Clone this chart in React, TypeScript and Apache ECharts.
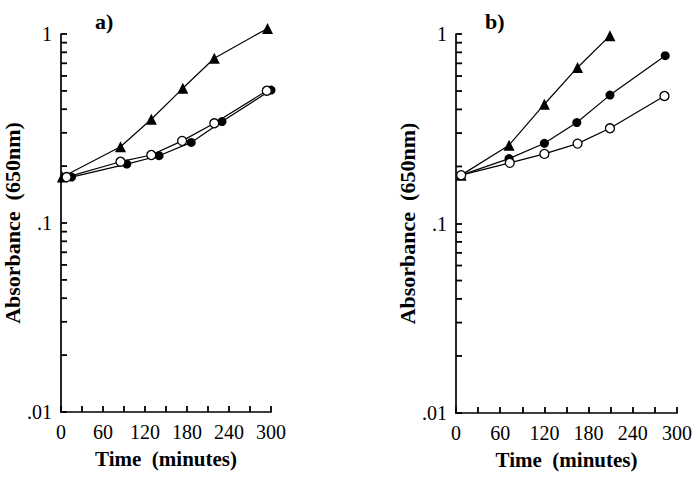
import React, { useEffect, useRef } from "react";
import * as echarts from "echarts";

// Panel a)
const timesATri = [2, 85, 129, 174, 219, 295];
const valsATri = [0.175, 0.253, 0.354, 0.516, 0.744, 1.07];
const timesAOpen = [8, 85, 129, 173, 219, 294];
const valsAOpen = [0.175, 0.211, 0.229, 0.272, 0.337, 0.501];
const timesAFill = [15, 94, 140, 186, 230, 300];
const valsAFill = [0.175, 0.205, 0.227, 0.267, 0.344, 0.505];

// Panel b)
const timesBTri = [7, 72, 120, 165, 209];
const valsBTri = [0.18, 0.259, 0.426, 0.666, 0.98];
const timesBFill = [7, 72, 120, 164, 209, 284];
const valsBFill = [0.18, 0.22, 0.265, 0.341, 0.476, 0.768];
const timesBOpen = [7, 73, 120, 165, 209, 283];
const valsBOpen = [0.18, 0.209, 0.233, 0.264, 0.318, 0.471];

const panelTitles = ["a)", "b)"];
const yMinorTicks = [0.02, 0.03, 0.04, 0.05, 0.06, 0.07, 0.08, 0.09, 0.2, 0.3, 0.4, 0.5, 0.6, 0.7, 0.8, 0.9];
const yAxisTitle = "Absorbance  (650nm)";
const xAxisTitle = "Time  (minutes)";

const FONT = "Liberation Serif";

const zip = (t: number[], v: number[]) => t.map((x, i) => [x, v[i]]);

export default function App() {
  const ref = useRef<HTMLDivElement>(null);
  useEffect(() => {
    if (!ref.current) return;
    const chart = echarts.init(ref.current, null, { renderer: "svg" });
    const grids = [
      { left: 61, top: 34, width: 210, height: 378 },
      { left: 456, top: 34, width: 221, height: 379 },
    ];
    const xAxes = grids.map((_, i) => ({
      type: "value",
      gridIndex: i,
      min: 0,
      max: 300,
      interval: 60,
      name: xAxisTitle,
      nameLocation: "middle",
      nameGap: 36,
      nameTextStyle: { fontFamily: FONT, fontWeight: "bold", fontSize: 21, color: "#000" },
      axisLine: { show: true, lineStyle: { color: "#000", width: 1.7 } },
      axisTick: { show: true, inside: true, length: 6, lineStyle: { color: "#000", width: 1.8 } },
      minorTick: { show: true, splitNumber: 2, length: 6, lineStyle: { color: "#000", width: 1.8 } },
      axisLabel: { fontFamily: FONT, fontSize: 20, color: "#000", margin: 10, showMinLabel: true, showMaxLabel: true },
      splitLine: { show: false },
      minorSplitLine: { show: false },
    }));
    const yAxes = grids.map((_, i) => ({
      type: "log",
      logBase: 10,
      gridIndex: i,
      min: 0.01,
      max: 1,
      name: yAxisTitle,
      nameLocation: "middle",
      nameGap: 33,
      nameTextStyle: { fontFamily: FONT, fontWeight: "bold", fontSize: 22, color: "#000" },
      axisLine: { show: true, lineStyle: { color: "#000", width: 1.7 } },
      axisTick: { show: true, inside: true, length: 6, lineStyle: { color: "#000", width: 1.8 } },
      axisLabel: {
        fontFamily: FONT,
        fontSize: 20,
        color: "#000",
        margin: 9,
        formatter: (v: number) => (v >= 0.99 ? "1" : v >= 0.099 ? ".1" : ".01"),
      },
      splitLine: { show: false },
    }));

    const lineSeries = (gi: number, data: number[][], kind: "tri" | "fill" | "open") => ({
      type: "line",
      xAxisIndex: gi,
      yAxisIndex: gi,
      data,
      clip: false,
      symbol: kind === "tri" ? "triangle" : "circle",
      symbolSize: kind === "tri" ? 11 : 9,
      lineStyle: { color: "#000", width: 1.2 },
      itemStyle: {
        color: kind === "open" ? "#fff" : "#000",
        borderColor: "#000",
        borderWidth: kind === "open" ? 1.3 : 0,
      },
      z: kind === "open" ? 4 : 3,
    });

    const minorTickSeries = (gi: number) => ({
      type: "custom",
      xAxisIndex: gi,
      yAxisIndex: gi,
      coordinateSystem: "cartesian2d",
      data: yMinorTicks.map((v) => [0, v]),
      encode: { x: 0, y: 1 },
      silent: true,
      clip: false,
      z: 10,
      renderItem: (params: any, api: any) => {
        const p = api.coord([api.value(0), api.value(1)]);
        return {
          type: "line",
          shape: { x1: p[0], y1: p[1], x2: p[0] + 6, y2: p[1] },
          style: { stroke: "#000", lineWidth: 1.8 },
        };
      },
    });

    chart.setOption({
      animation: false,
      backgroundColor: "#fff",
      title: [
        { text: panelTitles[0], left: 90, top: 5, textStyle: { fontFamily: FONT, fontWeight: "bold", fontSize: 22, color: "#000" } },
        { text: panelTitles[1], left: 480, top: 5, textStyle: { fontFamily: FONT, fontWeight: "bold", fontSize: 22, color: "#000" } },
      ],
      grid: grids,
      xAxis: xAxes,
      yAxis: yAxes,
      series: [
        minorTickSeries(0),
        minorTickSeries(1),
        lineSeries(0, zip(timesATri, valsATri), "tri"),
        lineSeries(0, zip(timesAFill, valsAFill), "fill"),
        lineSeries(0, zip(timesAOpen, valsAOpen), "open"),
        lineSeries(1, zip(timesBTri, valsBTri), "tri"),
        lineSeries(1, zip(timesBFill, valsBFill), "fill"),
        lineSeries(1, zip(timesBOpen, valsBOpen), "open"),
      ],
    });
    return () => chart.dispose();
  }, []);
  return (
    <div
      ref={ref}
      style={{ position: "fixed", left: 0, top: 0, width: 697, height: 482, background: "#fff" }}
    />
  );
}
